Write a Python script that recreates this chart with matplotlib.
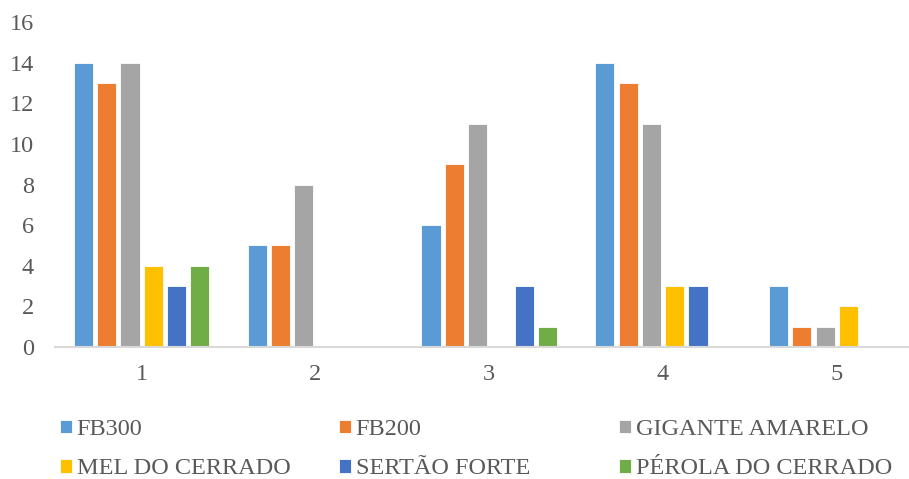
import numpy as np
import matplotlib
import matplotlib.pyplot as plt

matplotlib.use("agg")
plt.rcParams["font.family"] = ["Liberation Serif", "DejaVu Serif"]

# samples on the x axis and counts per cultivar
groups = ["1", "2", "3", "4", "5"]
series = ["FB300", "FB200", "GIGANTE AMARELO", "MEL DO CERRADO", "SERTÃO FORTE", "PÉROLA DO CERRADO"]
fb300 = [14, 5, 6, 14, 3]
fb200 = [13, 5, 9, 13, 1]
gigante = [14, 8, 11, 11, 1]
mel = [4, 0, 0, 3, 2]
sertao = [3, 0, 3, 3, 0]
perola = [4, 0, 1, 0, 0]
colors = ["#5B9BD5", "#ED7D31", "#A5A5A5", "#FFC000", "#4472C4", "#70AD47"]

values = [fb300, fb200, gigante, mel, sertao, perola]
text_color = "#595959"
fsize = 17.5

fig = plt.figure(figsize=(9.09, 4.79), dpi=100)
# plot area runs a little past the right edge of the figure
ax = fig.add_axes([0.0602, 0.2756, 0.956, 0.6784])

x = np.arange(1, len(groups) + 1)
pitch = 0.134
width = 0.11
handles = []
for i, (name, vals, col) in enumerate(zip(series, values, colors)):
    off = (i - (len(series) - 1) / 2) * pitch
    b = ax.bar(x + off, vals, width, color=col, edgecolor="white", linewidth=0.6, label=name)
    handles.append(b)

ax.set_xlim(0.5, 5.5)
ax.set_ylim(0, 16)
ax.set_yticks(range(0, 17, 2))
ax.set_xticks(x)
ax.set_xticklabels(groups)
for s in ["top", "right", "left"]:
    ax.spines[s].set_visible(False)
ax.spines["bottom"].set_color("#D9D9D9")
ax.spines["bottom"].set_linewidth(1.5)
ax.tick_params(axis="both", length=0, labelsize=fsize, colors=text_color)
ax.tick_params(axis="y", pad=15)
ax.tick_params(axis="x", pad=12)

# legend laid out as three evenly spaced columns of two entries
col_x = [0.066, 0.373, 0.681]
for c in range(3):
    hs = [handles[c], handles[c + 3]]
    ls = [series[c], series[c + 3]]
    leg = fig.legend(hs, ls, loc="upper left", bbox_to_anchor=(col_x[c], 0.125),
                     bbox_transform=fig.transFigure, frameon=False, fontsize=fsize,
                     handlelength=0.48, handleheight=0.5, handletextpad=0.2,
                     labelspacing=0.75, borderpad=0, borderaxespad=0)
    for t in leg.get_texts():
        t.set_color(text_color)

fig.savefig("out.png", dpi=100)
